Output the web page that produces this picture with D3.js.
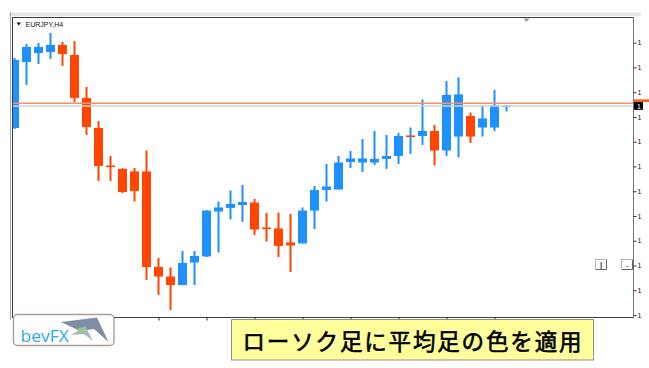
<!DOCTYPE html>
<html>
<head>
<meta charset="utf-8">
<script src="https://cdn.jsdelivr.net/npm/d3@7"></script>
<style>
body{margin:0;background:#fff;}
svg{display:block;}
</style>
</head>
<body>
<script>
const w = 649;
const h = 368;
const frame = {left:12, right:633, top:17, bottom:317};

// EURJPY H4 bars, oldest first
const barOpen  = [131.511,132.044,132.117,132.125,132.182,132.101,131.754,131.511,131.208,131.180,
                  131.160,131.160,130.388,130.311,130.242,130.424,130.473,130.836,130.865,130.889,
                  130.909,130.707,130.699,130.586,130.578,130.844,131.010,131.014,131.236,131.232,
                  131.232,131.261,131.285,131.451,131.446,131.487,131.329,131.442,131.608,131.515,
                  131.515,131.689];
const barHigh  = [132.077,132.190,132.198,132.279,132.206,132.214,131.842,131.568,131.285,131.186,
                  131.188,131.329,130.461,130.384,130.517,130.517,130.848,130.917,131.006,131.051,
                  130.937,130.824,130.828,130.816,130.869,131.042,131.220,131.285,131.325,131.422,
                  131.487,131.455,131.471,131.515,131.741,131.535,131.891,131.919,131.636,131.693,
                  131.818,131.697];
const barLow   = [131.503,131.859,132.028,132.069,132.012,131.721,131.455,131.083,131.083,130.986,
                  130.917,130.283,130.162,130.040,130.242,130.242,130.469,130.505,130.772,130.752,
                  130.646,130.594,130.469,130.347,130.578,130.695,130.917,131.014,131.188,131.156,
                  131.212,131.180,131.220,131.301,131.374,131.208,131.285,131.273,131.390,131.442,
                  131.487,131.644];
const barClose = [132.061,132.166,132.166,132.182,132.109,131.754,131.519,131.204,131.200,130.994,
                  131.002,130.388,130.311,130.242,130.420,130.477,130.844,130.869,130.897,130.913,
                  130.691,130.695,130.558,130.562,130.844,131.010,131.038,131.232,131.265,131.265,
                  131.261,131.285,131.446,131.442,131.487,131.329,131.778,131.782,131.442,131.588,
                  131.697,131.693];
// heikin ashi colour given to each body: u = up (blue), d = down (orange)
const bodyDir = ["u","u","u","u","d","d","d","d","d","d",
                 "d","d","d","d","u","u","u","u","u","u",
                 "d","d","d","d","u","u","u","u","u","u",
                 "u","u","u","d","u","d","u","u","d","u",
                 "u","u"];
// wick colour as drawn
const wickDir = ["u","u","u","u","d","d","d","d","d","d",
                 "d","d","d","d","u","u","u","u","u","u",
                 "d","d","d","d","u","u","u","u","u","u",
                 "u","u","u","u","u","d","u","u","d","u",
                 "u","u"];

const priceTicks = [130.0,130.2,130.4,130.6,130.8,131.0,131.2,131.4,131.6,131.8,132.0,132.2];
// the window cuts the price labels after their first digit
const priceTickLabels = ["1","1","1","1","1","1","1","1","1","1","1","1"];
const timeTicks = [0,4,8,12,16,20,24,28,32,36,40];
const levelLine = 131.710;
const bidLine = 131.688;
const bidLabel = "1";

const symbolLabel = "EURJPY,H4";
const logoText = "bevFX";
const caption = "ローソク足に平均足の色を適用";

const colors = {u:"#1e90ff", d:"#ff4500"};

const bars = barOpen.map((o,i) => ({
    i: i, o: o, h: barHigh[i], l: barLow[i], c: barClose[i],
    body: bodyDir[i], wick: wickDir[i]
}));

const x = d3.scaleLinear()
      .domain([0, 41])
      .range([14.5, 506.5]);
const y = d3.scaleLinear()
      .domain([130.0, 132.2])
      .range([315, 42.7]);

const svg = d3.select("body")
      .append("svg")
      .attr("width", w)
      .attr("height", h)
      .style("font-family", "'Liberation Sans', Arial, sans-serif");

const defs = svg.append("defs");
defs.append("clipPath").attr("id","plotClip")
    .append("rect")
    .attr("x", frame.left+0.5).attr("y", frame.top+0.5)
    .attr("width", frame.right-frame.left-0.5)
    .attr("height", frame.bottom-frame.top-0.5);

//window chrome
svg.append("rect")
    .attr("x", 9).attr("y", 12)
    .attr("width", 632).attr("height", 4)
    .attr("fill", "#e6e6e6");
svg.append("line")
    .attr("x1", 9).attr("x2", 641)
    .attr("y1", 12.5).attr("y2", 12.5)
    .attr("stroke", "#f2f2f2");
svg.append("line")
    .attr("x1", 10.5).attr("x2", 10.5)
    .attr("y1", 12).attr("y2", 320)
    .attr("stroke", "#a8a8a8");

//candles and price lines
const plot = svg.append("g").attr("clip-path", "url(#plotClip)");

plot.append("g")
    .selectAll(".wick")
    .data(bars)
    .enter().append("rect")
    .attr("class", "wick")
    .attr("x", d => x(d.i)-1)
    .attr("width", 2)
    .attr("y", d => y(d.h))
    .attr("height", d => y(d.l)-y(d.h))
    .attr("fill", d => colors[d.wick]);

plot.append("g")
    .selectAll(".body")
    .data(bars)
    .enter().append("rect")
    .attr("class", "body")
    .attr("x", d => x(d.i)-4.5)
    .attr("width", 9)
    .attr("y", d => y(Math.max(d.o, d.c)))
    .attr("height", d => Math.max(1.6, Math.abs(y(d.o)-y(d.c))))
    .attr("fill", d => colors[d.body]);

plot.append("line")
    .attr("x1", frame.left).attr("x2", frame.right)
    .attr("y1", y(bidLine)).attr("y2", y(bidLine))
    .attr("stroke", "#d4d4d4")
    .attr("stroke-width", 1.4);
plot.append("line")
    .attr("x1", frame.left).attr("x2", frame.right)
    .attr("y1", y(levelLine)).attr("y2", y(levelLine))
    .attr("stroke", "#f88d6c")
    .attr("stroke-width", 1.5);

//frame
svg.append("rect")
    .attr("x", frame.left+0.5).attr("y", frame.top+0.5)
    .attr("width", frame.right-frame.left)
    .attr("height", frame.bottom-frame.top)
    .attr("fill", "none")
    .attr("stroke", "#3c3c3c");
svg.append("line")
    .attr("x1", frame.right+0.5).attr("x2", frame.right+0.5)
    .attr("y1", frame.top).attr("y2", frame.bottom+1)
    .attr("stroke", "#777");

//shift marker
svg.append("path")
    .attr("d", "M523.5,18.5 L529.5,18.5 L526.5,22 Z")
    .attr("fill", "#9a9a9a");

//symbol label
svg.append("path")
    .attr("d", "M16.5,22.5 L21,22.5 L18.75,25.5 Z")
    .attr("fill", "#111");
svg.append("text")
    .attr("x", 25.5).attr("y", 26.8)
    .attr("font-size", "7px")
    .attr("fill", "#111")
    .text(symbolLabel);

//price axis
const yAxis = d3.axisRight()
      .scale(y)
      .tickValues(priceTicks)
      .tickSize(3)
      .tickPadding(1)
      .tickFormat((d,i) => priceTickLabels[i]);
const yAxisG = svg.append("g")
      .attr("transform", "translate("+(frame.right+0.5)+",0)")
      .call(yAxis);
yAxisG.select(".domain").remove();
yAxisG.selectAll("line").attr("stroke", "#333");
yAxisG.selectAll("text")
    .attr("font-size", "7px")
    .attr("font-family", "'Liberation Sans', Arial, sans-serif")
    .attr("fill", "#111");

//time axis
const xAxis = d3.axisBottom()
      .scale(x)
      .tickValues(timeTicks)
      .tickSize(3)
      .tickFormat("");
const xAxisG = svg.append("g")
      .attr("transform", "translate(0,"+(frame.bottom+0.5)+")")
      .call(xAxis);
xAxisG.select(".domain").remove();
xAxisG.selectAll("line").attr("stroke", "#333");

//price markers on the axis
svg.append("rect")
    .attr("x", frame.right+1).attr("y", y(levelLine)-4)
    .attr("width", 15).attr("height", 2.6)
    .attr("fill", "#ff5a1f");
svg.append("rect")
    .attr("x", frame.right+1).attr("y", y(bidLine)-4)
    .attr("width", 9).attr("height", 7.8)
    .attr("fill", "#000");
svg.append("text")
    .attr("x", frame.right+4).attr("y", y(bidLine)+2.6)
    .attr("font-size", "7px")
    .attr("fill", "#fff")
    .text(bidLabel);

//two small buttons
const buttons = [{x:595, label:"|"}, {x:621, label:"."}];
const btn = svg.append("g")
      .selectAll("g")
      .data(buttons)
      .enter().append("g")
      .attr("transform", d => "translate("+d.x+",259)");
btn.append("rect")
    .attr("x", 0.5).attr("y", 0.5)
    .attr("width", 11).attr("height", 10)
    .attr("fill", "#fff")
    .attr("stroke", "#b4b4b4");
btn.append("path")
    .attr("d", "M1,10.5 H11.5 V1")
    .attr("fill", "none")
    .attr("stroke", "#666");
btn.append("text")
    .attr("x", 6).attr("y", 8.3)
    .attr("text-anchor", "middle")
    .attr("font-size", "8px")
    .attr("font-weight", "bold")
    .attr("fill", "#333")
    .text(d => d.label);

//logo
const logo = svg.append("g");
logo.append("rect")
    .attr("x", 13.5).attr("y", 314.5)
    .attr("width", 100.5).attr("height", 31)
    .attr("rx", 4)
    .attr("fill", "#fff")
    .attr("stroke", "#ad9d9d")
    .attr("stroke-width", 1.4);
logo.append("path")
    .attr("d", "M61,322 L97,317.5 L108.5,342 L94,329 L80,331 Z")
    .attr("fill", "#7f8ea4");
logo.append("path")
    .attr("d", "M71,335 L85,326 L93,341 L84,334 Z")
    .attr("fill", "#aab6c6");
logo.append("circle")
    .attr("cx", 81).attr("cy", 330.5)
    .attr("r", 3)
    .attr("fill", "#8fd27f");
logo.append("text")
    .attr("x", 20.5).attr("y", 341.5)
    .attr("font-family", "'Open Sans', sans-serif")
    .attr("font-size", "17px")
    .attr("textLength", 48.5)
    .attr("lengthAdjust", "spacingAndGlyphs")
    .attr("fill", "#2aaae2")
    .text(logoText);

//caption box
svg.append("rect")
    .attr("x", 231.5).attr("y", 319.5)
    .attr("width", 362).attr("height", 40.5)
    .attr("fill", "#ffff9c")
    .attr("stroke", "#8f8f8f");
svg.append("text")
    .attr("x", 242.5).attr("y", 349.5)
    .attr("font-family", "'Noto Sans CJK JP', sans-serif")
    .attr("font-size", "22.5px")
    .attr("textLength", 339)
    .attr("lengthAdjust", "spacing")
    .attr("fill", "#000")
    .attr("stroke", "#000")
    .attr("stroke-width", 0.6)
    .text(caption);
</script>
</body>
</html>
